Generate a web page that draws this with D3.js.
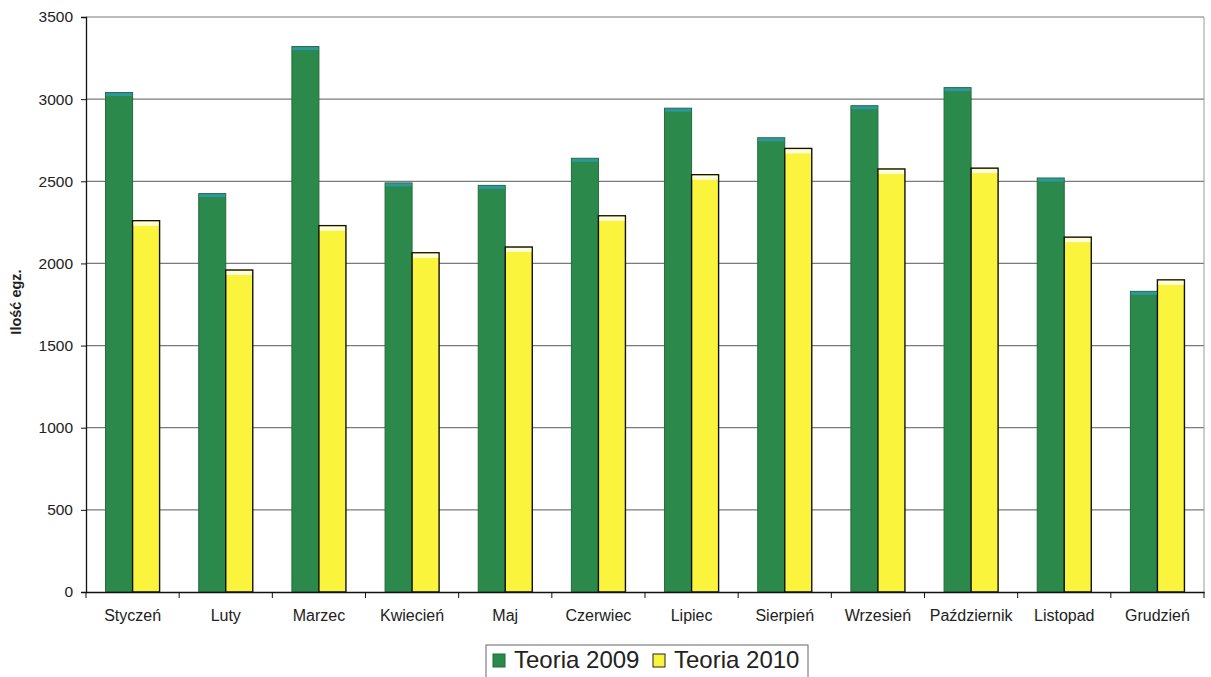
<!DOCTYPE html>
<html><head><meta charset="utf-8">
<script src="https://cdn.jsdelivr.net/npm/d3@7"></script>
<style>body{margin:0;background:#fff;} svg{display:block;font-family:"Liberation Sans",Arial,sans-serif;}</style>
</head><body>
<svg id="c" width="1211" height="677"></svg>
<script>
const months = ["Styczeń","Luty","Marzec","Kwiecień","Maj","Czerwiec","Lipiec","Sierpień","Wrzesień","Październik","Listopad","Grudzień"];
const series = ["Teoria 2009","Teoria 2010"];
const teoria2009 = [3040,2425,3320,2490,2475,2640,2945,2765,2960,3070,2520,1830];
const teoria2010 = [2260,1960,2230,2065,2100,2290,2540,2700,2575,2580,2160,1900];
const yTicks = [0,500,1000,1500,2000,2500,3000,3500];
const yTitle = "Ilość egz.";

const svg = d3.select("#c");
const L = 86, R = 1204, T = 17, B = 592;
const x0 = d3.scaleBand().domain(months).range([L, R]).paddingInner(0.42).paddingOuter(0.21);
const x1 = d3.scaleBand().domain(series).range([0, x0.bandwidth()]).padding(0);
const y = d3.scaleLinear().domain([0, 3500]).range([B, T]);
const colors = {"Teoria 2009":"#2b8a4b","Teoria 2010":"#fbf43c"};
const FONT = '"Liberation Sans",Arial,sans-serif';

// gridlines
svg.append("g").selectAll("line").data(yTicks.filter(d=>d>0)).join("line")
  .attr("x1", L).attr("x2", R).attr("y1", d=>y(d)).attr("y2", d=>y(d))
  .attr("stroke", "#7a7a7a").attr("stroke-width", 1.2);
// right border
svg.append("line").attr("x1", R).attr("x2", R).attr("y1", T).attr("y2", B)
  .attr("stroke", "#9a9a9a").attr("stroke-width", 1);

// bars
const data = months.map((m,i)=>({m, v:[{s:series[0],v:teoria2009[i]},{s:series[1],v:teoria2010[i]}]}));
const g = svg.append("g").selectAll("g").data(data).join("g")
  .attr("transform", d=>`translate(${x0(d.m)},0)`);
g.selectAll("rect.bar").data(d=>d.v).join("rect").attr("class","bar")
  .attr("x", d=>x1(d.s)).attr("width", x1.bandwidth())
  .attr("y", d=>y(d.v)).attr("height", d=>B - y(d.v))
  .attr("fill", d=>colors[d.s])
  .attr("stroke", d=>d.s===series[0] ? "#216b3a" : "#111")
  .attr("stroke-width", d=>d.s===series[0] ? 1 : 1.4);
// teal cap on green bars
g.selectAll("rect.cap").data(d=>[d.v[0]]).join("rect").attr("class","cap")
  .attr("x", d=>x1(d.s)+0.5).attr("width", x1.bandwidth()-1)
  .attr("y", d=>y(d.v)+0.5).attr("height", 3)
  .attr("fill", "#2f95a0");
// light strip on yellow
g.selectAll("rect.hl").data(d=>[d.v[1]]).join("rect").attr("class","hl")
  .attr("x", d=>x1(d.s)+1).attr("width", x1.bandwidth()-2)
  .attr("y", d=>y(d.v)+1).attr("height", 4)
  .attr("fill", "#fffde0");

// y axis
const yAxis = d3.axisLeft(y).tickValues(yTicks).tickSize(5).tickFormat(d3.format("d"));
const ya = svg.append("g").attr("transform", `translate(${L},0)`).call(yAxis);
ya.select(".domain").attr("stroke", "#111").attr("stroke-width", 1.3);
ya.selectAll(".tick line").attr("stroke", "#111");
ya.selectAll(".tick text").attr("font-size", 15.5).attr("fill", "#222").attr("x", -13)
  .attr("font-family", FONT);

// x axis
const xAxis = d3.axisBottom(x0).tickSize(0).tickSizeOuter(0);
const xa = svg.append("g").attr("transform", `translate(0,${B})`).call(xAxis);
xa.select(".domain").attr("stroke", "#111").attr("stroke-width", 1.3);
xa.selectAll(".tick text").attr("font-size", 16).attr("fill", "#222").attr("dy", 0).attr("y", 29)
  .attr("font-family", FONT);
// category separator ticks
const step = x0.step();
svg.append("g").selectAll("line").data(d3.range(months.length+1)).join("line")
  .attr("x1", i=>L + i*step).attr("x2", i=>L + i*step)
  .attr("y1", B).attr("y2", B+6).attr("stroke", "#111").attr("stroke-width", 1);

// y title
svg.append("text").attr("transform", "translate(21,302) rotate(-90)")
  .attr("text-anchor", "middle").attr("font-size", 14.5).attr("font-weight", "bold")
  .attr("fill", "#222").text(yTitle);

// legend
const lg = svg.append("g");
lg.append("rect").attr("x", 486).attr("y", 645).attr("width", 322).attr("height", 45)
  .attr("fill", "#fff").attr("stroke", "#666").attr("stroke-width", 1);
const lx = [493, 653];
series.forEach((s,i)=>{
  lg.append("rect").attr("x", lx[i]).attr("y", 654).attr("width", 12).attr("height", 13)
    .attr("fill", colors[s]).attr("stroke", i===0 ? "#216b3a" : "#222").attr("stroke-width", 1);
  lg.append("text").attr("x", lx[i]+21).attr("y", 668).attr("font-size", 24)
    .attr("fill", "#222").attr("font-family", FONT).text(s);
});
</script>
</body></html>
